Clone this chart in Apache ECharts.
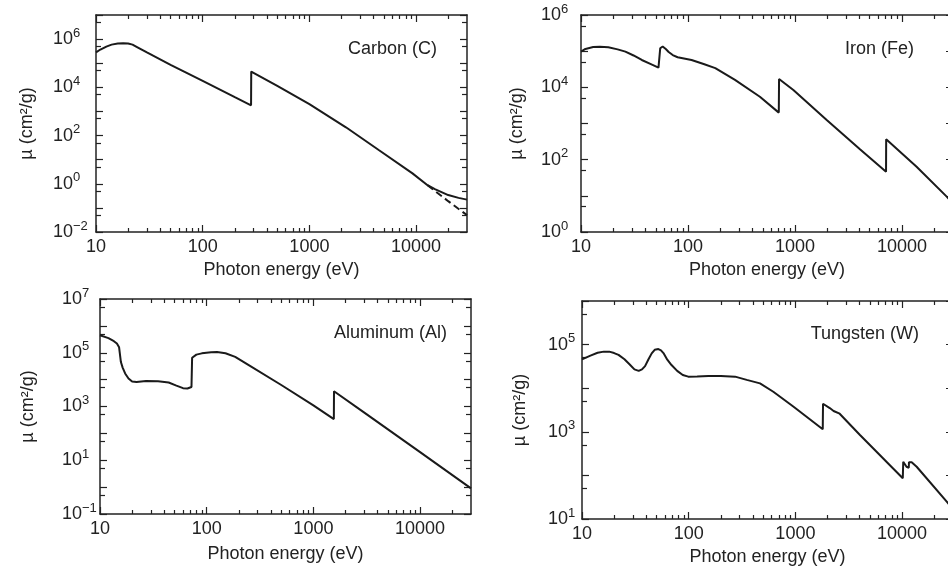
<!DOCTYPE html>
<html><head><meta charset="utf-8">
<script src="https://cdn.jsdelivr.net/npm/echarts@6/dist/echarts.min.js"></script>
<style>html,body{margin:0;padding:0;background:#fff}#c{width:948px;height:571px}</style>
</head><body><div id="c"></div>
<script>
// ---------- data (photon energy eV, mass attenuation cm^2/g) ----------
const energyLabels = [10, 100, 1000, 10000];
const energyMajorTicks = [10, 100, 1000, 10000];
const energyMinorTicks = [20,30,40,50,60,70,80,90,200,300,400,500,600,700,800,900,2000,3000,4000,5000,6000,7000,8000,9000,20000];

const carbonSolid = [[10,2.8e5],[11,3.7e5],[12.5,4.9e5],[14,5.9e5],[16,6.6e5],[18,6.8e5],[20,6.6e5],[22,5.9e5],[24,4.8e5],[30,2.8e5],[50,8.5e4],[100,1.85e4],[200,3.9e3],[284,1.8e3],[285,4.5e4],[500,1.14e4],[1000,2.0e3],[2200,2.2e2],[4500,24.5],[9250,2.7],[12800,0.87],[15000,0.6],[20000,0.34],[25000,0.26],[30000,0.22]];
const carbonDashed = [[12800,0.87],[20000,0.19],[30000,0.05]];
const ironData = [[10,9.7e4],[11,1.15e5],[13,1.3e5],[15,1.33e5],[18,1.28e5],[22,1.12e5],[26,9.7e4],[31,7.6e4],[37,5.7e4],[45,4.4e4],[53,3.5e4],[55,1.2e5],[58,1.35e5],[62,1.15e5],[66,9.5e4],[72,7.8e4],[80,6.8e4],[108,5.7e4],[140,4.4e4],[180,3.4e4],[275,1.6e4],[470,5.5e3],[706,2.0e3],[710,1.7e4],[966,8.4e3],[1980,1.25e3],[4050,1.95e2],[7100,46],[7120,365],[13700,64],[26200,9.5],[30000,6.3]];
const aluminumData = [[10,4.5e5],[12,3.5e5],[13.5,2.7e5],[14.4,2.2e5],[15.1,1.6e5],[15.7,4.5e4],[16.3,2.8e4],[17.2,1.7e4],[18.5,1.1e4],[20,8.5e3],[22,8.1e3],[27,8.8e3],[35,8.7e3],[44,7.8e3],[52,6.0e3],[60,4.8e3],[66,4.7e3],[72,5.3e3],[73,6.5e4],[80,8.5e4],[90,9.5e4],[110,1.05e5],[125,1.07e5],[150,9.6e4],[185,7.0e4],[250,3.4e4],[500,6.3e3],[1000,1.1e3],[1555,3.4e2],[1560,3.7e3],[3000,590],[10000,20],[30000,0.9]];
const tungstenData = [[10,4.6e4],[12,5.6e4],[14,6.5e4],[16,6.9e4],[18,6.9e4],[20,6.4e4],[22,5.8e4],[25,4.6e4],[28,3.5e4],[31,2.7e4],[34,2.5e4],[36.5,2.7e4],[39,3.2e4],[42,4.6e4],[45,6.3e4],[48,7.6e4],[52,7.9e4],[55,7.4e4],[58,6.4e4],[63,4.5e4],[69,3.4e4],[78,2.5e4],[88,2.0e4],[99,1.84e4],[120,1.85e4],[153,1.9e4],[200,1.9e4],[272,1.84e4],[350,1.55e4],[466,1.29e4],[621,8.3e3],[955,3.8e3],[1805,1.14e3],[1815,4.4e3],[1880,4.1e3],[1900,4.2e3],[2100,3.5e3],[2280,3.0e3],[2300,3.15e3],[2600,2.6e3],[4030,846],[10150,86],[10250,206],[11000,158],[11550,150],[11600,200],[12300,200],[13700,158],[26200,25],[30000,17]];

const carbonY = {min:1e-2, max:1e7, major:[1e-2,1e-1,1,10,100,1e3,1e4,1e5,1e6,1e7], minor:[5e-2,5e-1,5,50,500,5e3,5e4,5e5,5e6], labels:[1e-2,1,1e2,1e4,1e6]};
const ironY = {min:1, max:1e6, major:[1,10,100,1e3,1e4,1e5,1e6], minor:[5,50,500,5e3,5e4,5e5], labels:[1,1e2,1e4,1e6]};
const aluminumY = {min:1e-1, max:1e7, major:[1e-1,1,10,100,1e3,1e4,1e5,1e6,1e7], minor:[5e-1,5,50,500,5e3,5e4,5e5,5e6], labels:[1e-1,10,1e3,1e5,1e7]};
const tungstenY = {min:10, max:1e6, major:[10,100,1e3,1e4,1e5,1e6], minor:[50,500,5e3,5e4,5e5], labels:[10,1e3,1e5]};

const panelTitles = ['Carbon (C)', 'Iron (Fe)', 'Aluminum (Al)', 'Tungsten (W)'];

// ---------- styling / layout ----------
const FONT = '"Liberation Sans", Arial, Helvetica, sans-serif';
const INK = '#222';
const FS = 18;
const panels = [
  {grid:{left:96, top:15, width:371, height:217}, y:carbonY, labelMargin:43, nameGap:60, xNameGap:29, title:{x:437,y:49}},
  {grid:{left:581, top:15, width:372, height:217}, y:ironY, labelMargin:40, nameGap:55, xNameGap:29, title:{x:914,y:49}},
  {grid:{left:100, top:299, width:371, height:215}, y:aluminumY, labelMargin:38, nameGap:63, xNameGap:31, title:{x:447,y:333}},
  {grid:{left:582, top:301, width:371, height:218}, y:tungstenY, labelMargin:34, nameGap:53, xNameGap:29, title:{x:919,y:334}}
];

function supFormatter(v) {
  const e = Math.round(Math.log10(v));
  return '{b|10}{s|' + (e < 0 ? '\u2212' + (-e) : e) + '}';
}
const lineSt = {color: INK, width: 1.5};
const tickSt = {color: INK, width: 1.2};

const grids = [], xAxes = [], yAxes = [], series = [], graphics = [];
panels.forEach((p, g) => {
  grids.push(Object.assign({containLabel:false, outerBoundsMode:'none'}, p.grid));
  const xBase = {type:'log', logBase:10, gridIndex:g, min:10, max:30000, splitLine:{show:false}, minorTick:{show:false}, axisLine:{show:true, onZero:false, lineStyle:lineSt}};
  xAxes.push(Object.assign({}, xBase, {
    position:'bottom',
    axisTick:{show:true, inside:true, length:7, customValues:energyMajorTicks, lineStyle:tickSt},
    axisLabel:{show:true, customValues:energyLabels, margin:6, fontSize:FS, color:INK, fontFamily:FONT, formatter:v => String(Math.round(v))},
    name:'Photon energy (eV)', nameLocation:'middle', nameGap:p.xNameGap, nameMoveOverlap:false,
    nameTextStyle:{fontSize:FS, color:INK, fontFamily:FONT}
  }));
  xAxes.push(Object.assign({}, xBase, {position:'bottom', axisLine:{show:false}, axisLabel:{show:false},
    axisTick:{show:true, inside:true, length:4, customValues:energyMinorTicks, lineStyle:tickSt}}));
  xAxes.push(Object.assign({}, xBase, {position:'top', axisLabel:{show:false},
    axisTick:{show:true, inside:true, length:7, customValues:energyMajorTicks, lineStyle:tickSt}}));
  xAxes.push(Object.assign({}, xBase, {position:'top', axisLine:{show:false}, axisLabel:{show:false},
    axisTick:{show:true, inside:true, length:4, customValues:energyMinorTicks, lineStyle:tickSt}}));

  const yBase = {type:'log', logBase:10, gridIndex:g, min:p.y.min, max:p.y.max, splitLine:{show:false}, minorTick:{show:false}, axisLine:{show:true, onZero:false, lineStyle:lineSt}};
  yAxes.push(Object.assign({}, yBase, {
    position:'left',
    axisTick:{show:true, inside:true, length:7, customValues:p.y.major, lineStyle:tickSt},
    axisLabel:{show:true, customValues:p.y.labels, align:'left', margin:p.labelMargin, formatter:supFormatter,
      rich:{b:{fontSize:FS, lineHeight:25, color:INK, fontFamily:FONT}, s:{fontSize:13, lineHeight:13, verticalAlign:'top', color:INK, fontFamily:FONT}}},
    name:'\u00b5 (cm\u00b2/g)', nameLocation:'middle', nameGap:p.nameGap, nameRotate:90, nameMoveOverlap:false,
    nameTextStyle:{fontSize:FS, color:INK, fontFamily:FONT}
  }));
  yAxes.push(Object.assign({}, yBase, {position:'left', axisLine:{show:false}, axisLabel:{show:false},
    axisTick:{show:true, inside:true, length:5, customValues:p.y.minor, lineStyle:tickSt}}));
  yAxes.push(Object.assign({}, yBase, {position:'right', axisLabel:{show:false},
    axisTick:{show:true, inside:true, length:7, customValues:p.y.major, lineStyle:tickSt}}));
  yAxes.push(Object.assign({}, yBase, {position:'right', axisLine:{show:false}, axisLabel:{show:false},
    axisTick:{show:true, inside:true, length:5, customValues:p.y.minor, lineStyle:tickSt}}));

  graphics.push({type:'text', x:p.title.x, y:p.title.y, style:{text:panelTitles[g], align:'right', verticalAlign:'middle', fontSize:FS, fontFamily:FONT, fill:INK}});
});

const curveStyle = {color:'#1a1a1a', width:2};
const curves = [carbonSolid, ironData, aluminumData, tungstenData];
curves.forEach((d, g) => {
  series.push({type:'line', xAxisIndex:4*g, yAxisIndex:4*g, data:d, symbol:'none', showSymbol:false, lineStyle:curveStyle, clip:true, z:5});
});
series.push({type:'line', xAxisIndex:0, yAxisIndex:0, data:carbonDashed, symbol:'none', showSymbol:false,
  lineStyle:{color:'#1a1a1a', width:2, type:[7,4]}, clip:true, z:5});

const chart = echarts.init(document.getElementById('c'), null, {renderer:'canvas'});
chart.setOption({
  backgroundColor:'#ffffff',
  animation:false,
  grid:grids, xAxis:xAxes, yAxis:yAxes, series:series, graphic:graphics
});
</script></body></html>
